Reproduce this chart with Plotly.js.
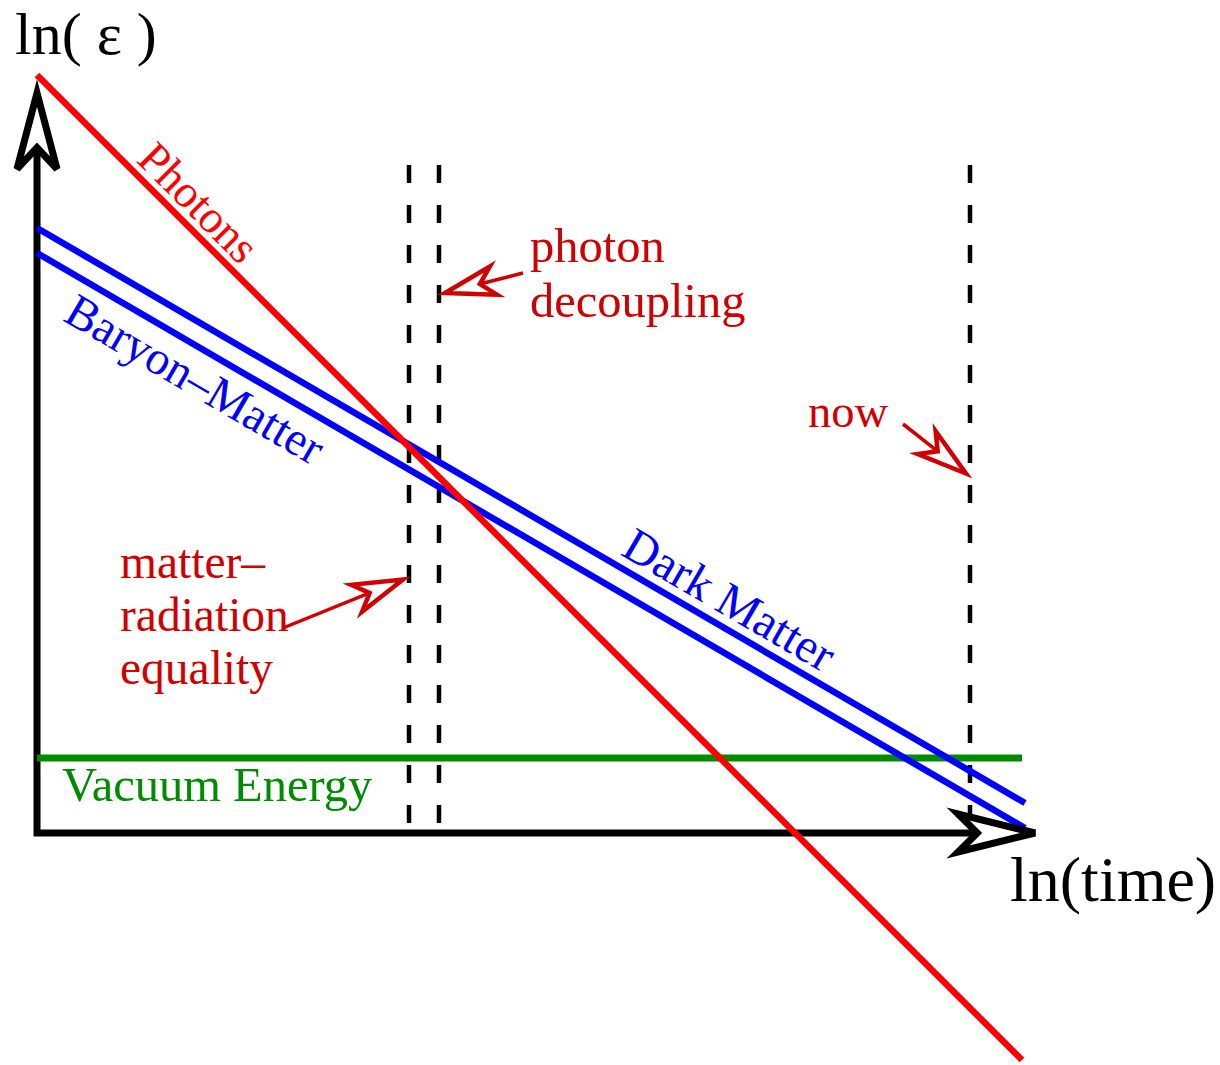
<!DOCTYPE html>
<html>
<head>
<meta charset="utf-8">
<script src="https://cdn.plot.ly/plotly-3.0.1.min.js"></script>
<style>html,body{margin:0;padding:0;background:#fff;}#chart{width:1220px;height:1065px;}</style>
</head>
<body>
<div id="chart"></div>
<script>
// ---- Data (schematic units: origin at the axes corner) ----
const photonsT = [0, 985];
const photonsE = [758, -227];
const darkMatterT = [0, 988];
const darkMatterE = [605, 30];
const baryonT = [0, 988];
const baryonE = [580, 5];
const vacuumT = [0, 985];
const vacuumE = [75, 75];
const epochNames = ['matter–radiation equality', 'photon decoupling', 'now'];
const epochT = [372, 402, 933];
const epochTop = 668;
const epochBottom = 0;
const axisTipT = 998;   // x-axis arrow tip
const axisTipE = 740;   // y-axis arrow tip
// annotation arrows: tail and tip (schematic units)
const arrowTailT = [246, 486, 866];
const arrowTailE = [205, 560, 409];
const arrowTipT = [366, 408, 929];
const arrowTipE = [253.5, 540, 359.5];

const FONT = '"Liberation Serif", "Times New Roman", Times, serif';
const DARKRED = '#d00000';
const BLUE = '#0000ff';
const RED = '#ff0000';
const GREEN = '#008c00';

function head(tip, tail, L, W, f) {
  const dx = tail[0] - tip[0], dy = tail[1] - tip[1];
  const d = Math.hypot(dx, dy);
  const ux = dx / d, uy = dy / d, nx = -uy, ny = ux;
  const bx = tip[0] + ux * L, by = tip[1] + uy * L;
  const w1 = [bx + nx * W, by + ny * W], w2 = [bx - nx * W, by - ny * W];
  const notch = [tip[0] + ux * L * f, tip[1] + uy * L * f];
  return {
    path: `M${tip[0]},${tip[1]} L${w1[0]},${w1[1]} L${notch[0]},${notch[1]} L${w2[0]},${w2[1]} Z`,
    notch: notch
  };
}

const traces = [];
const shapes = [];

// axes with open arrowheads
const yHead = head([0, axisTipE], [0, 0], 76, 20, 0.72);
const xHead = head([axisTipT, 0], [0, 0], 77, 19, 0.75);
traces.push({x: [0, 0, xHead.notch[0]], y: [yHead.notch[1], 0, 0], mode: 'lines',
  line: {color: '#000', width: 7}, hoverinfo: 'skip'});
shapes.push({type: 'path', xref: 'x', yref: 'y', path: yHead.path, fillcolor: '#fff', line: {color: '#000', width: 7}, layer: 'above'});
shapes.push({type: 'path', xref: 'x', yref: 'y', path: xHead.path, fillcolor: '#fff', line: {color: '#000', width: 7}, layer: 'above'});

// epoch dashed lines
epochT.forEach(t => {
  traces.push({x: [t, t], y: [epochTop, epochBottom], mode: 'lines',
    line: {color: '#000', width: 4.5, dash: '18px,22px'}, hoverinfo: 'skip'});
});

// component lines
traces.push({x: vacuumT, y: vacuumE, mode: 'lines', line: {color: GREEN, width: 7}, hoverinfo: 'skip'});
traces.push({x: baryonT, y: baryonE, mode: 'lines', line: {color: BLUE, width: 6.5}, hoverinfo: 'skip'});
traces.push({x: darkMatterT, y: darkMatterE, mode: 'lines', line: {color: BLUE, width: 6.5}, hoverinfo: 'skip'});
traces.push({x: photonsT, y: photonsE, mode: 'lines', line: {color: RED, width: 6.5}, hoverinfo: 'skip'});

// annotation arrows
for (let i = 0; i < arrowTipT.length; i++) {
  const h = head([arrowTipT[i], arrowTipE[i]], [arrowTailT[i], arrowTailE[i]], 50, 14.5, 0.72);
  traces.push({x: [arrowTailT[i], h.notch[0]], y: [arrowTailE[i], h.notch[1]], mode: 'lines',
    line: {color: DARKRED, width: 3.5}, hoverinfo: 'skip'});
  shapes.push({type: 'path', xref: 'x', yref: 'y', path: h.path, fillcolor: '#fff', line: {color: DARKRED, width: 4.5}, layer: 'above'});
}

// text
function txt(text, x, y, size, color, opts) {
  return Object.assign({text: text, x: x, y: y, xref: 'x', yref: 'y', showarrow: false,
    font: {family: FONT, size: size, color: color}, xanchor: 'left', yanchor: 'middle'}, opts || {});
}
const annotations = [
  txt('ln( ε )', -24, 799, 60, '#000'),
  txt('ln(time)', 971, -46, 64, '#000'),
  txt('Photons', 162, 631, 46, RED, {xanchor: 'center', textangle: 45}),
  txt('Baryon–Matter', 158, 454, 47.5, BLUE, {xanchor: 'center', textangle: 30.2}),
  txt('Dark Matter', 693, 234, 48, BLUE, {xanchor: 'center', textangle: 30.2}),
  txt('Vacuum Energy', 23, 49, 48.5, GREEN),
  txt('photon', 491, 588, 48.5, DARKRED),
  txt('decoupling', 491, 533, 48.5, DARKRED),
  txt('now', 769, 422, 46.5, DARKRED),
  txt('matter–', 81, 271, 47.5, DARKRED),
  txt('radiation', 81, 218, 47.5, DARKRED),
  txt('equality', 81, 165, 47.5, DARKRED)
];

const layout = {
  width: 1220, height: 1065,
  margin: {l: 0, r: 0, t: 0, b: 0, pad: 0},
  paper_bgcolor: '#fff', plot_bgcolor: '#fff',
  showlegend: false,
  xaxis: {range: [-37, 1183], visible: false, fixedrange: true},
  yaxis: {range: [-232, 833], visible: false, fixedrange: true},
  shapes: shapes,
  annotations: annotations,
  hovermode: false
};

Plotly.newPlot('chart', traces, layout, {displayModeBar: false, staticPlot: true});
</script>
</body>
</html>
